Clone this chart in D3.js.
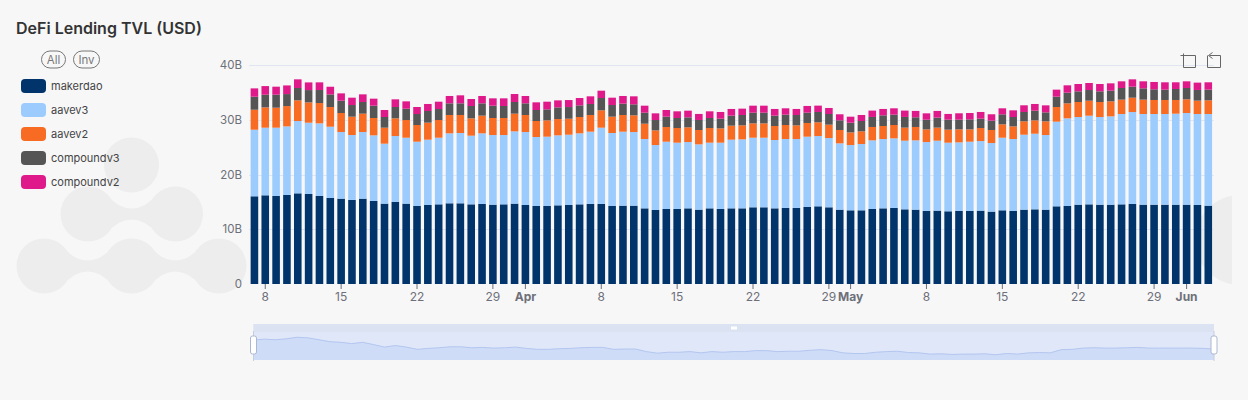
<!DOCTYPE html>
<meta charset="utf-8">
<style>
html, body {
  margin: 0;
  padding: 0;
  background: #f7f7f8;
  overflow: hidden;
}

svg {
  display: block;
  font-family: Inter, sans-serif;
}

.axis text {
  font-family: Inter, sans-serif;
  font-size: 12px;
  fill: #6e7079;
}

.y.axis text {
  font-size: 11.5px;
}

.axis .domain {
  display: none;
}

.x.axis line {
  stroke: #6e7079;
}

.grid line {
  stroke: #e0e6f1;
}

.legend text {
  font-size: 11px;
  fill: #444;
}

.pill rect {
  fill: none;
  stroke: #777;
}

.pill text {
  font-size: 11.5px;
  fill: #777;
  text-anchor: middle;
}

.icon path {
  fill: none;
  stroke: #666;
  stroke-width: 1;
}
</style>
<body>
<script src="https://d3js.org/d3.v7.min.js"></script>
<script>
var seriesNames = ["makerdao", "aavev3", "aavev2", "compoundv3", "compoundv2"];
var seriesColors = ["#00346b", "#9ccbfd", "#f76b22", "#555555", "#e0198a"];

var firstDay = new Date(Date.UTC(2024, 2, 7));
var lastDay = new Date(Date.UTC(2024, 5, 3));

// values in billions
var makerdao = [16.02,16.20,16.08,16.26,16.56,16.44,16.08,15.71,15.59,15.35,15.59,15.16,14.68,14.98,14.68,14.25,14.43,14.55,14.74,14.74,14.55,14.62,14.49,14.55,14.68,14.43,14.25,14.25,14.37,14.43,14.55,14.62,14.62,14.25,14.31,14.31,13.82,13.52,13.70,13.70,13.82,13.58,13.82,13.70,13.82,13.82,14.01,14.01,13.82,13.89,13.89,14.07,14.19,14.01,13.58,13.46,13.46,13.70,13.82,13.89,13.64,13.58,13.34,13.40,13.28,13.34,13.34,13.40,13.22,13.46,13.34,13.58,13.64,13.58,14.19,14.25,14.49,14.55,14.49,14.49,14.55,14.62,14.49,14.49,14.49,14.49,14.49,14.43,14.31];
var aavev3 = [12.16,12.35,12.47,12.53,13.21,13.02,13.26,13.02,12.17,11.86,12.17,11.99,10.95,12.05,12.04,11.74,11.93,12.17,12.78,12.84,12.54,12.90,12.72,12.66,13.20,13.33,12.60,12.66,12.78,12.84,12.97,13.20,13.93,13.33,13.51,13.45,12.66,11.86,12.29,12.11,12.11,11.93,11.99,12.11,12.54,12.60,12.71,12.71,12.48,12.59,12.59,12.84,12.84,12.65,12.11,11.92,12.11,12.54,12.66,12.71,12.54,12.66,12.59,12.78,12.53,12.53,12.65,12.71,12.53,13.26,13.14,13.69,13.81,13.63,15.46,16.01,16.01,16.19,16.01,16.13,16.50,16.79,16.56,16.56,16.56,16.62,16.74,16.62,16.74];
var aavev2 = [3.65,3.71,3.65,3.71,3.78,3.71,3.71,3.59,3.47,3.35,3.35,3.17,2.92,3.23,3.23,3.05,3.11,3.23,3.35,3.29,3.17,3.23,3.11,3.11,3.23,3.11,2.92,2.98,2.98,2.92,2.98,3.05,3.17,2.98,3.05,3.05,2.80,2.68,2.68,2.68,2.68,2.62,2.68,2.62,2.56,2.56,2.62,2.62,2.56,2.56,2.50,2.50,2.50,2.44,2.44,2.31,2.31,2.44,2.38,2.44,2.38,2.44,2.31,2.38,2.38,2.38,2.25,2.38,2.38,2.44,2.31,2.44,2.44,2.50,2.68,2.74,2.74,2.74,2.74,2.74,2.62,2.62,2.62,2.56,2.56,2.50,2.50,2.44,2.50];
var compoundv3 = [2.38,2.31,2.38,2.19,2.25,2.25,2.38,2.31,2.25,2.13,2.13,2.25,1.95,2.07,2.07,2.01,2.13,2.01,2.13,2.13,2.25,2.25,2.25,2.19,2.13,2.13,2.01,2.01,2.13,2.13,2.13,2.01,2.25,2.13,2.07,2.01,2.01,1.89,1.89,1.83,1.83,1.83,1.83,1.77,1.83,1.89,1.95,1.95,1.89,1.89,1.89,1.89,1.89,1.95,1.77,1.77,1.89,1.83,1.95,1.89,1.95,1.77,1.77,1.83,1.83,1.77,1.83,1.71,1.71,1.83,1.71,1.71,1.77,1.64,1.89,1.95,1.95,1.95,1.95,1.95,2.13,2.01,2.07,1.95,1.89,2.01,2.07,1.95,1.95];
var compoundv2 = [1.52,1.58,1.46,1.58,1.58,1.40,1.40,1.40,1.34,1.34,1.40,1.28,1.28,1.40,1.34,1.28,1.28,1.34,1.34,1.46,1.28,1.34,1.34,1.40,1.46,1.34,1.40,1.40,1.28,1.28,1.34,1.40,1.34,1.34,1.40,1.46,1.28,1.22,1.22,1.22,1.22,1.10,1.22,1.22,1.22,1.16,1.28,1.28,1.22,1.16,1.10,1.22,1.16,1.10,1.10,1.10,1.10,1.16,1.16,1.16,1.16,1.16,1.16,1.22,1.04,1.16,1.16,1.22,1.16,1.10,1.22,1.22,1.22,1.28,1.28,1.34,1.34,1.28,1.34,1.34,1.22,1.34,1.28,1.34,1.34,1.22,1.22,1.34,1.34];

var tickDates = [[2,8],[2,15],[2,22],[2,29],[3,1],[3,8],[3,15],[3,22],[3,29],[4,1],[4,8],[4,15],[4,22],[4,29],[5,1]];
var tickLabels = ["8","15","22","29","Apr","8","15","22","29","May","8","15","22","29","Jun"];
var yTicks = [0, 10, 20, 30, 40];
var yTickLabels = ["0", "10B", "20B", "30B", "40B"];

var width = 1248,
    height = 400,
    margin = {top: 65, right: 34.3, bottom: 116, left: 249};

var days = d3.utcDay.range(firstDay, d3.utcDay.offset(lastDay, 1));
var tickDays = tickDates.map(function(d) { return new Date(Date.UTC(2024, d[0], d[1])); });

var columns = [makerdao, aavev3, aavev2, compoundv3, compoundv2];
var table = days.map(function(day, i) {
  var row = {day: day};
  seriesNames.forEach(function(name, s) { row[name] = columns[s][i]; });
  return row;
});

var x = d3.scaleBand()
    .domain(days)
    .range([margin.left, width - margin.right])
    .paddingInner(0.3)
    .paddingOuter(0.15);

var y = d3.scaleLinear()
    .domain([0, 40])
    .range([height - margin.bottom, margin.top]);

var svg = d3.select("body").append("svg")
    .attr("width", width)
    .attr("height", height);

// watermark logo behind the legend
var logo = svg.append("g").attr("fill", "#ededed");
var logoR = 27.5;
var logoCircles = [[131.5, 165], [88, 214], [175.5, 214], [44, 266], [131.5, 266], [219, 266]];
var logoNecks = [[88, 175.5, 214], [44, 131.5, 266], [131.5, 219, 266]];

logo.selectAll("circle")
    .data(logoCircles)
  .enter().append("circle")
    .attr("cx", function(d) { return d[0]; })
    .attr("cy", function(d) { return d[1]; })
    .attr("r", logoR);

logo.selectAll("path")
    .data(logoNecks)
  .enter().append("path")
    .attr("d", function(d) {
      var p = d3.path(), a = d[0], b = d[1], c = d[2], m = (a + b) / 2;
      p.moveTo(a + 18, c - 20);
      p.quadraticCurveTo(a + 30, c - 5.5, m, c - 5.5);
      p.quadraticCurveTo(b - 30, c - 5.5, b - 18, c - 20);
      p.lineTo(b - 18, c + 20);
      p.quadraticCurveTo(b - 30, c + 5.5, m, c + 5.5);
      p.quadraticCurveTo(a + 30, c + 5.5, a + 18, c + 20);
      p.closePath();
      return p.toString();
    });

// second logo, only its edge shows past the last bar
svg.append("clipPath").attr("id", "plotclip")
  .append("rect")
    .attr("x", 200)
    .attr("y", margin.top)
    .attr("width", 1032)
    .attr("height", height - margin.bottom - margin.top);

svg.append("circle")
    .attr("clip-path", "url(#plotclip)")
    .attr("cx", 1240)
    .attr("cy", 240)
    .attr("r", 45)
    .attr("fill", "#ededed");

svg.append("text")
    .attr("x", 16)
    .attr("y", 34)
    .attr("font-size", 16)
    .attr("font-weight", 600)
    .attr("fill", "#333")
    .text("DeFi Lending TVL (USD)");

// All / Inv buttons
var pills = svg.selectAll(".pill")
    .data([{label: "All", x: 41, w: 24}, {label: "Inv", x: 73, w: 26}])
  .enter().append("g")
    .attr("class", "pill");

pills.append("rect")
    .attr("x", function(d) { return d.x + 0.5; })
    .attr("y", 51)
    .attr("width", function(d) { return d.w; })
    .attr("height", 17)
    .attr("rx", 8.5);

pills.append("text")
    .attr("x", function(d) { return d.x + d.w / 2 + 0.5; })
    .attr("y", 63.5)
    .text(function(d) { return d.label; });

var legend = svg.selectAll(".legend")
    .data(seriesNames)
  .enter().append("g")
    .attr("class", "legend")
    .attr("transform", function(d, i) { return "translate(21," + (79 + i * 24) + ")"; });

legend.append("rect")
    .attr("width", 25)
    .attr("height", 14)
    .attr("rx", 4)
    .attr("fill", function(d, i) { return seriesColors[i]; });

legend.append("text")
    .attr("x", 30)
    .attr("y", 11)
    .text(function(d) { return d; });

svg.append("g")
    .attr("class", "grid")
  .selectAll("line")
    .data(yTicks.slice(1))
  .enter().append("line")
    .attr("x1", margin.left)
    .attr("x2", width - margin.right)
    .attr("y1", function(d) { return Math.round(y(d)) + 0.5; })
    .attr("y2", function(d) { return Math.round(y(d)) + 0.5; });

var stack = d3.stack().keys(seriesNames);

svg.append("g")
  .selectAll("g")
    .data(stack(table))
  .enter().append("g")
    .attr("fill", function(d, i) { return seriesColors[i]; })
  .selectAll("rect")
    .data(function(d) { return d; })
  .enter().append("rect")
    .attr("x", function(d) { return x(d.data.day); })
    .attr("y", function(d) { return y(d[1]); })
    .attr("width", x.bandwidth())
    .attr("height", function(d) { return y(d[0]) - y(d[1]); });

var yAxis = d3.axisLeft(y)
    .tickValues(yTicks)
    .tickSize(0)
    .tickPadding(7)
    .tickFormat(function(d, i) { return yTickLabels[i]; });

svg.append("g")
    .attr("class", "y axis")
    .attr("transform", "translate(" + margin.left + ",0)")
    .call(yAxis);

var xAxis = d3.axisBottom(x)
    .tickValues(tickDays)
    .tickSize(5)
    .tickPadding(3)
    .tickFormat(function(d, i) { return tickLabels[i]; });

svg.append("g")
    .attr("class", "x axis")
    .attr("transform", "translate(0," + (height - margin.bottom) + ")")
    .call(xAxis)
  .selectAll("text")
    .style("font-weight", function(d, i) { return isNaN(+tickLabels[i]) ? 700 : 400; });

// toolbox icons
var icons = svg.append("g").attr("class", "icon");
icons.append("path").attr("d", "M1183.5 53.5V67.5H1195.5V55.5H1180.5");
icons.append("path").attr("d", "M1207.5 55.5V67.5H1220.5V55.5H1209.5M1212.5 52.5L1208.5 55.5L1212.5 58.5");

// range slider under the chart
var sliderLeft = 253.5,
    sliderRight = 1214,
    sliderTop = 324,
    sliderInner = 332,
    sliderBottom = 360;

svg.append("rect")
    .attr("x", sliderLeft)
    .attr("y", sliderTop)
    .attr("width", sliderRight - sliderLeft)
    .attr("height", sliderBottom - sliderTop)
    .attr("fill", "#e0e7f8");

svg.append("rect")
    .attr("x", sliderLeft)
    .attr("y", sliderTop)
    .attr("width", sliderRight - sliderLeft)
    .attr("height", sliderInner - sliderTop)
    .attr("fill", "#dbe2f2");

var sliderX = d3.scalePoint()
    .domain(days)
    .range([sliderLeft, sliderRight]);

var makerExtent = d3.extent(makerdao);
var makerPad = (makerExtent[1] - makerExtent[0]) * 0.3;
var sliderY = d3.scaleLinear()
    .domain([makerExtent[0] - makerPad, makerExtent[1] + makerPad])
    .range([sliderBottom, sliderInner]);

svg.append("path")
    .datum(table)
    .attr("fill", "#cfdcf7")
    .attr("d", d3.area()
      .x(function(d) { return sliderX(d.day); })
      .y0(sliderBottom)
      .y1(function(d) { return sliderY(d.makerdao); }));

svg.append("path")
    .datum(table)
    .attr("fill", "none")
    .attr("stroke", "#b3c6f0")
    .attr("d", d3.line()
      .x(function(d) { return sliderX(d.day); })
      .y(function(d) { return sliderY(d.makerdao); }));

var handles = svg.selectAll(".handle")
    .data([sliderLeft, sliderRight])
  .enter().append("g")
    .attr("class", "handle");

handles.append("line")
    .attr("x1", function(d) { return d; })
    .attr("x2", function(d) { return d; })
    .attr("y1", 331)
    .attr("y2", 361)
    .attr("stroke", "#c5cddf");

handles.append("rect")
    .attr("x", function(d) { return d - 3; })
    .attr("y", 336)
    .attr("width", 6)
    .attr("height", 18)
    .attr("rx", 2)
    .attr("fill", "#fff")
    .attr("stroke", "#acb8d1");

svg.append("rect")
    .attr("x", 731)
    .attr("y", 326.5)
    .attr("width", 6)
    .attr("height", 3)
    .attr("fill", "#fff");
</script>
